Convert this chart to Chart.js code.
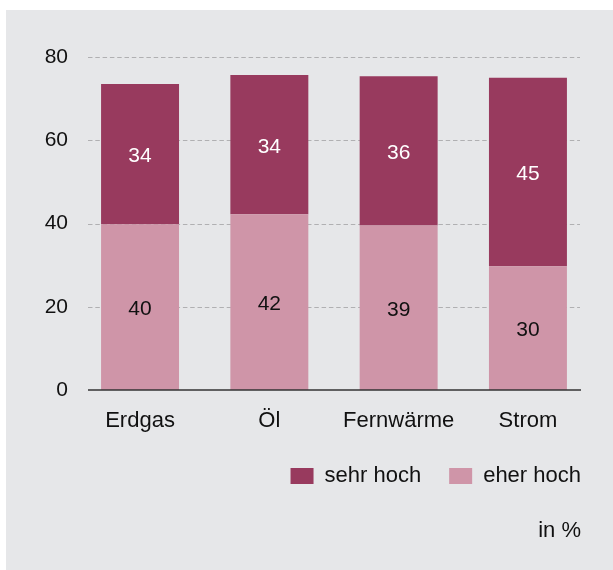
<!DOCTYPE html>
<html>
<head>
<meta charset="utf-8">
<script src="https://cdn.jsdelivr.net/npm/chart.js@4/dist/chart.umd.min.js"></script>
<style>
  html, body { margin: 0; padding: 0; background: #ffffff; }
  #wrap { position: absolute; left: 6px; top: 10px; width: 607px; height: 560px; background: #e6e7e9; }
  canvas { display: block; }
</style>
</head>
<body>
<div id="wrap"><canvas id="c" width="607" height="560"></canvas></div>
<script>
const categories = ['Erdgas', 'Öl', 'Fernwärme', 'Strom'];
const eherHoch = [39.8, 42.2, 39.5, 29.7];
const sehrHoch = [33.7, 33.5, 35.9, 45.3];
const eherLabels = ['40', '42', '39', '30'];
const sehrLabels = ['34', '34', '36', '45'];
const yTicks = [0, 20, 40, 60, 80];
const seriesNames = ['eher hoch', 'sehr hoch'];
const unitNote = 'in %';

const FONT = "'Liberation Sans', Arial, Helvetica, sans-serif";
const TXT = '#111111';

const gridPlugin = {
  id: 'customGrid',
  beforeDatasetsDraw(chart) {
    const ctx = chart.ctx, y = chart.scales.y;
    ctx.save();
    ctx.strokeStyle = '#b0b0b2';
    ctx.lineWidth = 1;
    ctx.setLineDash([4.5, 2.8]);
    yTicks.forEach(v => {
      if (v === 0) return;
      const py = Math.round(y.getPixelForValue(v)) + 0.5;
      ctx.beginPath(); ctx.moveTo(82, py); ctx.lineTo(574, py); ctx.stroke();
    });
    ctx.restore();
  },
  afterDatasetsDraw(chart) {
    const ctx = chart.ctx, y = chart.scales.y;
    ctx.save();
    ctx.strokeStyle = '#333333';
    ctx.lineWidth = 1.6;
    const py = y.getPixelForValue(0);
    ctx.beginPath(); ctx.moveTo(82, py); ctx.lineTo(575, py); ctx.stroke();
    ctx.font = '21px ' + FONT;
    ctx.textAlign = 'center';
    ctx.textBaseline = 'middle';
    const lbls = [eherLabels, sehrLabels];
    const cols = [TXT, '#ffffff'];
    chart.data.datasets.forEach((ds, di) => {
      const meta = chart.getDatasetMeta(di);
      meta.data.forEach((bar, i) => {
        const cy = (bar.y + bar.base) / 2;
        ctx.fillStyle = cols[di];
        ctx.fillText(lbls[di][i], bar.x, cy + 2.5);
      });
    });
    ctx.font = '22px ' + FONT;
    ctx.textAlign = 'right';
    ctx.fillStyle = TXT;
    ctx.fillText(unitNote, 575, 521);
    ctx.restore();
  }
};

new Chart(document.getElementById('c'), {
  type: 'bar',
  data: {
    labels: categories,
    datasets: [
      { label: seriesNames[0], data: eherHoch, backgroundColor: '#cf95a8', borderWidth: 0, yAxisID: 'y' },
      { label: seriesNames[1], data: sehrHoch, backgroundColor: '#983a5e', borderWidth: 0, yAxisID: 'y' }
    ]
  },
  options: {
    responsive: false,
    animation: false,
    events: [],
    layout: { padding: { top: 47, left: 0, right: 4, bottom: 73 } },
    datasets: { bar: { categoryPercentage: 1, barPercentage: 0.603 } },
    scales: {
      x: {
        stacked: true,
        grid: { display: false, drawTicks: false },
        border: { display: false },
        ticks: { color: TXT, font: { family: FONT, size: 22 }, padding: 18, maxRotation: 0 },
        afterFit(s) { s.height = 47; }
      },
      y: {
        stacked: true,
        min: 0, max: 80,
        grid: { display: false, drawTicks: false },
        border: { display: false },
        ticks: { color: TXT, font: { family: FONT, size: 21 }, padding: 7.4, stepSize: 20 },
        afterFit(s) { s.width = 69.4; }
      },
      yR: {
        position: 'right',
        display: true,
        grid: { display: false, drawTicks: false },
        border: { display: false },
        ticks: { display: false },
        afterFit(s) { s.width = 16.4; }
      }
    },
    plugins: {
      legend: {
        display: true,
        position: 'bottom',
        align: 'end',
        reverse: true,
        labels: {
          color: TXT,
          font: { family: FONT, size: 22 },
          boxWidth: 23,
          boxHeight: 16,
          padding: 28
        }
      },
      tooltip: { enabled: false },
      title: { display: false }
    }
  },
  plugins: [gridPlugin]
});
</script>
</body>
</html>
